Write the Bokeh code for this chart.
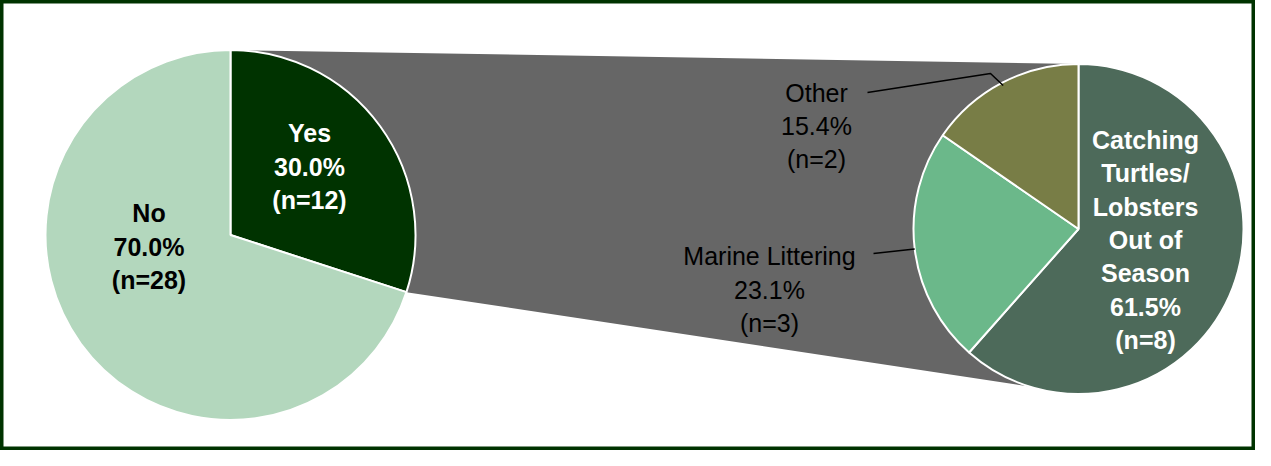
import numpy as np
from bokeh.plotting import figure
from bokeh.models import Range1d, ColumnDataSource
from bokeh.embed import file_html
from bokeh.resources import INLINE
from bokeh.core.properties import value

# ---------------- data ----------------
main_categories = ["Yes", "No"]
main_counts = [12, 28]
main_colors = ["#003300", "#B3D7BD"]

sub_categories = ["Catching Turtles/ Lobsters Out of Season", "Marine Littering", "Other"]
sub_counts = [8, 3, 2]
sub_colors = ["#4D6A5A", "#6BB88A", "#787D46"]

main_label_words = [["Yes"], ["No"]]
sub_label_words = [["Catching", "Turtles/", "Lobsters", "Out of", "Season"],
                   ["Marine Littering"], ["Other"]]

# ---------------- layout (reference pixel space, y downwards) ----------------
H_REF = 466
FIG_W, FIG_H = 1255, 450
MAIN_C = (230.0, 234.5)
MAIN_R = 185.0
SUB_C = (1078.0, 228.5)
SUB_R = 165.0
LINE_H = 33.4
FONT = value("Liberation Sans")
FSIZE = "25px"

main_label_pos = [(309, 166), (148.5, 246)]
main_label_bold = [True, True]
main_label_color = ["white", "black"]
sub_label_pos = [(1145, 239.5), (769, 289), (816, 125.5)]
sub_label_bold = [True, False, False]
sub_label_color = ["white", "black", "black"]
# leader lines: start point and optional elbows (label side)
sub_leaders = [None, [(873, 253)], [(867, 92), (990, 73)]]
sub_leader_inset = [0, 0, 3]


def Y(y):
    return H_REF - y


def clock_point(c, r, a_deg):
    a = np.radians(a_deg)
    return c[0] + r * np.sin(a), Y(c[1]) + r * np.cos(a)


def slices(counts):
    tot = float(sum(counts))
    fr = np.array(counts) / tot
    ends = np.cumsum(fr) * 360.0
    starts = ends - fr * 360.0
    return starts, ends, fr


p = figure(width=FIG_W, height=FIG_H, x_range=Range1d(0, FIG_W), y_range=Range1d(Y(FIG_H), Y(0)),
           output_backend="svg", toolbar_location=None, min_border=0,
           x_axis_type=None, y_axis_type=None)
p.grid.visible = False
p.background_fill_color = "white"
p.border_fill_color = "white"
p.outline_line_color = "#003300"
p.outline_line_width = 6

m_starts, m_ends, m_fr = slices(main_counts)
s_starts, s_ends, s_fr = slices(sub_counts)

# ---- connector (gray) from the exploded slice to the second pie ----
top_l = clock_point(MAIN_C, MAIN_R, m_starts[0])
bot_l = clock_point(MAIN_C, MAIN_R, m_ends[0])
top_r = clock_point(SUB_C, SUB_R, 0)
bot_r = clock_point(SUB_C, SUB_R, 180)
p.patch([top_l[0], top_r[0], bot_r[0], bot_l[0], MAIN_C[0]],
        [top_l[1], top_r[1], bot_r[1], bot_l[1], Y(MAIN_C[1])],
        fill_color="#666666", line_color=None)

# ---- pies ----
def draw_pie(c, r, starts, ends, colors):
    src = ColumnDataSource(dict(
        x=[c[0]] * len(starts), y=[Y(c[1])] * len(starts),
        s=np.radians(90 - ends), e=np.radians(90 - starts), col=colors))
    p.wedge(x="x", y="y", radius=r, start_angle="s", end_angle="e",
            fill_color="col", line_color="white", line_width=2, source=src)

draw_pie(MAIN_C, MAIN_R, m_starts, m_ends, main_colors)
draw_pie(SUB_C, SUB_R, s_starts, s_ends, sub_colors)

# ---- leader lines ----
for i, pts in enumerate(sub_leaders):
    if not pts:
        continue
    mid = (s_starts[i] + s_ends[i]) / 2
    ex, ey = clock_point(SUB_C, SUB_R - sub_leader_inset[i], mid)
    xs = [q[0] for q in pts] + [ex]
    ys = [Y(q[1]) for q in pts] + [ey]
    p.line(xs, ys, line_color="black", line_width=1.5)

# ---- labels ----
rows = {True: dict(x=[], y=[], t=[], c=[]), False: dict(x=[], y=[], t=[], c=[])}


def add_label(words, count, total, pos, bold, color):
    lines = list(words) + [f"{100.0 * count / total:.1f}%", f"(n={count})"]
    n = len(lines)
    for k, ln in enumerate(lines):
        rows[bold]["x"].append(pos[0])
        rows[bold]["y"].append(Y(pos[1] + (k - (n - 1) / 2) * LINE_H))
        rows[bold]["t"].append(ln)
        rows[bold]["c"].append(color)


for i in range(len(main_counts)):
    add_label(main_label_words[i], main_counts[i], sum(main_counts), main_label_pos[i],
              main_label_bold[i], main_label_color[i])
for i in range(len(sub_counts)):
    add_label(sub_label_words[i], sub_counts[i], sum(sub_counts), sub_label_pos[i],
              sub_label_bold[i], sub_label_color[i])

for bold, d in rows.items():
    if not d["x"]:
        continue
    p.text(x="x", y="y", text="t", text_color="c", source=ColumnDataSource(d),
           text_font=FONT, text_font_size=FSIZE,
           text_font_style="bold" if bold else "normal",
           text_align="center", text_baseline="middle")

open("out.html", "w").write(file_html(p, INLINE))
